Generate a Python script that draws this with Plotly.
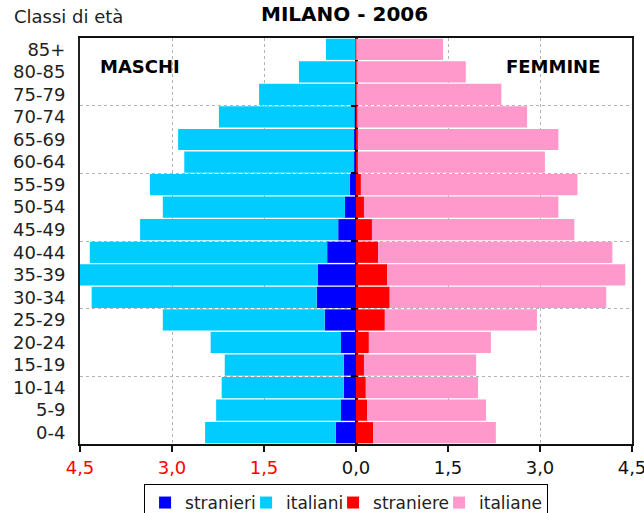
import plotly.graph_objects as go

categories = ["0-4", "5-9", "10-14", "15-19", "20-24", "25-29", "30-34", "35-39", "40-44",
              "45-49", "50-54", "55-59", "60-64", "65-69", "70-74", "75-79", "80-85", "85+"]

stranieri = [0.33, 0.245, 0.20, 0.20, 0.245, 0.51, 0.64, 0.62, 0.47,
             0.29, 0.18, 0.10, 0.03, 0.03, 0.02, 0.01, 0.01, 0.005]
italiani = [2.13, 2.035, 1.99, 1.94, 2.125, 2.64, 3.67, 3.95, 3.87,
            3.23, 2.97, 3.26, 2.77, 2.87, 2.215, 1.57, 0.92, 0.485]
straniere = [0.28, 0.18, 0.16, 0.13, 0.21, 0.47, 0.55, 0.51, 0.36,
             0.26, 0.13, 0.08, 0.03, 0.03, 0.02, 0.01, 0.01, 0.005]
italiane = [2.00, 1.94, 1.83, 1.83, 1.99, 2.48, 3.53, 3.88, 3.82,
            3.30, 3.17, 3.53, 3.05, 3.27, 2.77, 2.36, 1.78, 1.415]

x_tickvals = [-4.5, -3.0, -1.5, 0.0, 1.5, 3.0, 4.5]
x_ticklabels = ["4,5", "3,0", "1,5", "0,0", "1,5", "3,0", "4,5"]
grid_rows = [2.5, 5.5, 8.5, 11.5, 14.5]

FONT = "DejaVu Sans"
pos = list(range(len(categories)))

fig = go.Figure()
fig.add_trace(go.Bar(y=pos, x=[-v for v in stranieri], orientation="h", name="stranieri",
                     marker=dict(color="#0000FF", line=dict(width=0)), legendwidth=56))
fig.add_trace(go.Bar(y=pos, x=[-v for v in italiani], orientation="h", name="italiani",
                     marker=dict(color="#00CCFF", line=dict(width=0)), legendwidth=42))
fig.add_trace(go.Bar(y=pos, x=straniere, orientation="h", name="straniere",
                     marker=dict(color="#FF0000", line=dict(width=0)), legendwidth=61))
fig.add_trace(go.Bar(y=pos, x=italiane, orientation="h", name="italiane",
                     marker=dict(color="#FF99CC", line=dict(width=0))))
# helper (empty) trace so the centre tick axis is rendered
fig.add_trace(go.Scatter(x=[], y=[], yaxis="y2", showlegend=False, hoverinfo="skip"))

ticktext = []
for v, t in zip(x_tickvals, x_ticklabels):
    ticktext.append(f'<span style="color:#FF0000">{t}</span>' if v < 0 else t)

fig.update_layout(
    width=644, height=513,
    margin=dict(l=80, r=12, t=38, b=69, autoexpand=False),
    plot_bgcolor="white", paper_bgcolor="white",
    barmode="relative", bargap=0.06,
    font=dict(family=FONT, size=18, color="#222222"),
    xaxis=dict(range=[-4.5, 4.5], tickvals=x_tickvals, ticktext=ticktext,
               showgrid=True, gridcolor="#b4b4b4", griddash="dot", gridwidth=1,
               zeroline=True, zerolinecolor="black", zerolinewidth=2.5,
               showline=True, mirror=True, linecolor="#111111", linewidth=2,
               ticks="outside", ticklen=6, tickwidth=2, tickcolor="#111111",
               ticklabeloverflow="allow",
               tickfont=dict(size=18, color="#111111")),
    yaxis=dict(range=[-0.5, 17.5], tickvals=pos, ticktext=categories,
               showgrid=False, zeroline=False,
               showline=True, mirror=True, linecolor="#222222", linewidth=2,
               ticks="", ticklabelstandoff=9,
               tickfont=dict(size=18, color="#222222"),
               minor=dict(tickvals=grid_rows, showgrid=True, gridcolor="#b4b4b4",
                          griddash="dot", gridwidth=1, ticks="")),
    yaxis2=dict(range=[-0.5, 17.5], overlaying="y", anchor="free", position=0.5,
                tickvals=grid_rows, ticks="outside", ticklen=5, tickwidth=2,
                tickcolor="black", showticklabels=False, showgrid=False,
                zeroline=False, showline=False),
    legend=dict(orientation="h", x=0.482, xanchor="center", y=-0.0985, yanchor="top",
                bordercolor="black", borderwidth=1, bgcolor="white",
                font=dict(size=17, color="#222222"), traceorder="normal"),
    annotations=[
        dict(text="<b>MILANO - 2006</b>", xref="paper", yref="paper", x=0.480, y=1.059,
             xanchor="center", yanchor="middle", showarrow=False,
             font=dict(size=20, color="black")),
        dict(text="Classi di età", xref="paper", yref="paper", x=-0.123, y=1.054,
             xanchor="left", yanchor="middle", showarrow=False,
             font=dict(size=18, color="#222222")),
        dict(text="<b>MASCHI</b>", xref="paper", yref="paper", x=0.0326, y=0.931,
             xanchor="left", yanchor="middle", showarrow=False,
             font=dict(size=18, color="black")),
        dict(text="<b>FEMMINE</b>", xref="paper", yref="paper", x=0.9457, y=0.931,
             xanchor="right", yanchor="middle", showarrow=False,
             font=dict(size=18, color="black")),
        dict(text="6,0", xref="paper", yref="paper", x=-0.170, y=-0.056,
             xanchor="center", yanchor="middle", showarrow=False,
             font=dict(size=18, color="#111111")),
    ],
)

fig.write_html("out.html", post_script="document.body.style.margin='0px';",
               config={"displayModeBar": False})
